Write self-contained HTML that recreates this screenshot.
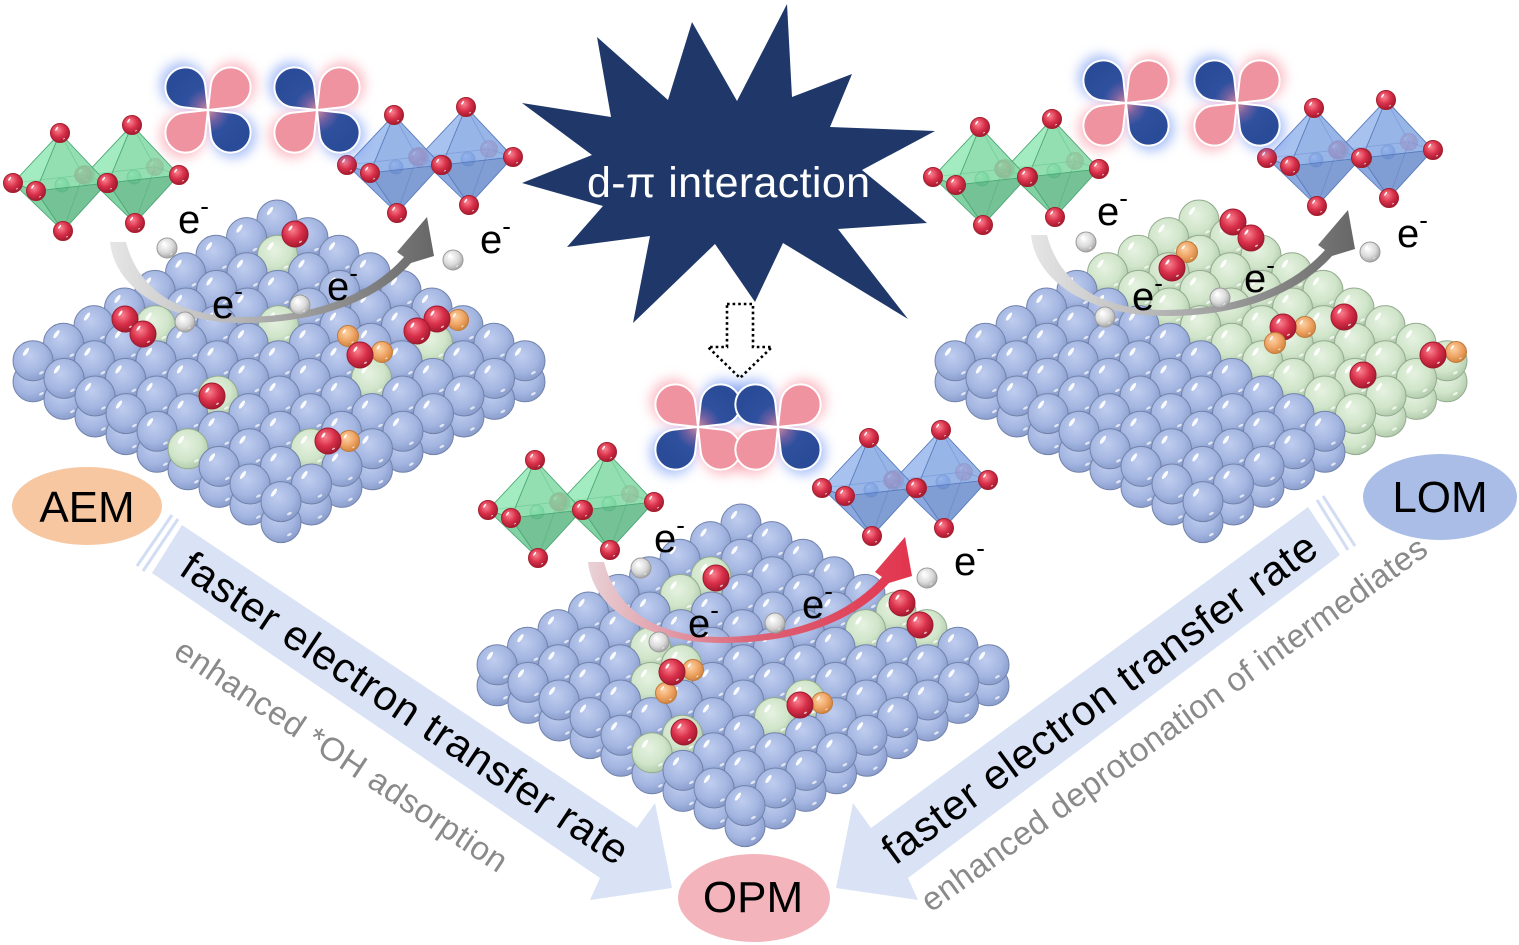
<!DOCTYPE html>
<html><head><meta charset="utf-8"><style>
html,body{margin:0;padding:0;background:#fff;width:1519px;height:945px;overflow:hidden}
svg{display:block}
text{font-family:"Liberation Sans",Arial,sans-serif}
</style></head><body>
<svg id="S" width="1519" height="945" viewBox="0 0 1519 945" xmlns="http://www.w3.org/2000/svg">
<defs id="D">
 <radialGradient id="gB" cx="0.42" cy="0.38" r="0.62"><stop offset="0" stop-color="#bfcdef"/><stop offset="0.65" stop-color="#a4b6e1"/><stop offset="1" stop-color="#8b9ecd"/></radialGradient>
 <radialGradient id="gG" cx="0.42" cy="0.38" r="0.62"><stop offset="0" stop-color="#e6f2e1"/><stop offset="0.65" stop-color="#d0e5ca"/><stop offset="1" stop-color="#b4ccae"/></radialGradient>
 <radialGradient id="gR" cx="0.4" cy="0.35" r="0.65"><stop offset="0" stop-color="#f98290"/><stop offset="0.55" stop-color="#d9304a"/><stop offset="1" stop-color="#a51a30"/></radialGradient>
 <radialGradient id="gO" cx="0.4" cy="0.35" r="0.65"><stop offset="0" stop-color="#fcd2a4"/><stop offset="0.6" stop-color="#eea363"/><stop offset="1" stop-color="#d08540"/></radialGradient>
 <radialGradient id="gW" cx="0.4" cy="0.35" r="0.65"><stop offset="0" stop-color="#ffffff"/><stop offset="0.6" stop-color="#dadada"/><stop offset="1" stop-color="#a8a8a8"/></radialGradient>
 <radialGradient id="gMg" cx="0.4" cy="0.35" r="0.65"><stop offset="0" stop-color="#b0f5cc"/><stop offset="1" stop-color="#45c782"/></radialGradient>
 <radialGradient id="gMb" cx="0.4" cy="0.35" r="0.65"><stop offset="0" stop-color="#b5d0ff"/><stop offset="1" stop-color="#4a80dc"/></radialGradient>
 <linearGradient id="arG" gradientUnits="userSpaceOnUse" x1="110" y1="0" x2="435" y2="0"><stop offset="0" stop-color="#e6e6e6"/><stop offset="0.55" stop-color="#a2a2a2"/><stop offset="1" stop-color="#666"/></linearGradient>
 <linearGradient id="arR" gradientUnits="userSpaceOnUse" x1="110" y1="0" x2="435" y2="0"><stop offset="0" stop-color="#e8d2d6"/><stop offset="0.5" stop-color="#dc6377"/><stop offset="1" stop-color="#e2344d"/></linearGradient>
 <filter id="blur" x="-50%" y="-50%" width="200%" height="200%"><feGaussianBlur stdDeviation="6"/></filter>
</defs>

<polygon points="182,525 637,828 655,803 672,888 590,900 600,878 152,573" fill="#d9e3f5"/>
<line x1="178" y1="519" x2="143" y2="571" stroke="#d2ddf3" stroke-width="3"/>
<line x1="172" y1="515" x2="137" y2="566" stroke="#d2ddf3" stroke-width="3"/>
<polygon points="1308,507 871,828 853,803 836,888 918,900 908,878 1340,555" fill="#d9e3f5"/>
<line x1="1317" y1="500" x2="1348" y2="550" stroke="#d2ddf3" stroke-width="3"/>
<line x1="1323" y1="496" x2="1355" y2="546" stroke="#d2ddf3" stroke-width="3"/>

<text transform="translate(177.5,573.5) rotate(33.7)" font-size="42" textLength="528" fill="#000">faster electron transfer rate</text>
<text transform="translate(172,656) rotate(33.7)" font-size="33" textLength="392" fill="#8a8a8a">enhanced *OH adsorption</text>
<text transform="translate(895,866) rotate(-36.3)" font-size="42" textLength="528" fill="#000">faster electron transfer rate</text>
<text transform="translate(931,913) rotate(-35.8)" font-size="33" textLength="615" fill="#8a8a8a">enhanced deprotonation of intermediates</text>

<g id="slabL"></g>
<g id="slabR"></g>
<g id="slabC"></g>
<g id="mols"></g>

<g id="arrows">
 <path d="M110,242 C115,290 170,323 245,323 C320,323 378,300 411,263 L434,256 L427,217 L397,252 L404,257 C370,295 315,316 245,317 C185,317 140,295 126,242 Z" fill="url(#arG)"/>
 <path transform="translate(921,-7)" d="M110,242 C115,290 170,323 245,323 C320,323 378,300 411,263 L434,256 L427,217 L397,252 L404,257 C370,295 315,316 245,317 C185,317 140,295 126,242 Z" fill="url(#arG)"/>
 <path transform="translate(478,320)" d="M110,242 C115,290 170,323 245,323 C320,323 378,300 411,263 L434,256 L427,217 L397,252 L404,257 C370,295 315,316 245,317 C185,317 140,295 126,242 Z" fill="url(#arR)"/>
</g>
<g id="grays"></g>

<g font-size="40" fill="#000">
 <text x="178" y="233">e<tspan dy="-18" font-size="26">-</tspan></text>
 <text x="212" y="318">e<tspan dy="-18" font-size="26">-</tspan></text>
 <text x="327" y="300">e<tspan dy="-18" font-size="26">-</tspan></text>
 <text x="480" y="253">e<tspan dy="-18" font-size="26">-</tspan></text>
 <text x="1097" y="225">e<tspan dy="-18" font-size="26">-</tspan></text>
 <text x="1397" y="247">e<tspan dy="-18" font-size="26">-</tspan></text>
 <text x="1132" y="310">e<tspan dy="-18" font-size="26">-</tspan></text>
 <text x="1244" y="292">e<tspan dy="-18" font-size="26">-</tspan></text>
 <text x="654" y="552">e<tspan dy="-18" font-size="26">-</tspan></text>
 <text x="688" y="637">e<tspan dy="-18" font-size="26">-</tspan></text>
 <text x="802" y="618">e<tspan dy="-18" font-size="26">-</tspan></text>
 <text x="954" y="575">e<tspan dy="-18" font-size="26">-</tspan></text>
</g>

<g id="octs"></g>
<g id="orbs"></g>

<polygon points="522,103 611,117 597,37 668,100 692,22 737,101 787,4 792,97 852,74 830,127 935,131 862,170 927,223 838,229 908,319 783,243 755,302 715,244 633,323 650,236 567,247 603,206 522,183 592,155" fill="#1f3869"/>
<text x="587" y="197" font-size="43" fill="#fff" textLength="283">d-π interaction</text>

<path d="M727,304 L753,304 L753,347 L772,347 L740,378 L708,347 L727,347 Z" fill="none" stroke="#000" stroke-width="2.6" stroke-dasharray="2.6 3"/>

<ellipse cx="87" cy="506" rx="75" ry="39" fill="#f7c7a1"/>
<text x="87" y="522" font-size="44" text-anchor="middle">AEM</text>
<ellipse cx="1440" cy="497" rx="77" ry="43" fill="#a9bde6"/>
<text x="1440" y="512" font-size="44" text-anchor="middle">LOM</text>
<ellipse cx="754" cy="898" rx="76" ry="44" fill="#f4b4bc"/>
<text x="753" y="912" font-size="44" text-anchor="middle">OPM</text>
</svg>

<script>
(function(){
const NS='http://www.w3.org/2000/svg';
function E(tag,a,p){const e=document.createElementNS(NS,tag);for(const k in a)e.setAttribute(k,a[k]);if(p)p.appendChild(e);return e;}
function ball(g,x,y,r,grad,stroke,hl,op){
  const c=E('circle',{cx:x,cy:y,r:r,fill:'url(#'+grad+')',stroke:stroke,'stroke-width':1},g);
  if(op!==undefined)c.setAttribute('opacity',op);
  if(hl){const hx=x-r*0.35,hy=y-r*0.45;
    E('ellipse',{cx:hx,cy:hy,rx:r*0.24,ry:r*0.09,fill:'#fff',opacity:0.95,transform:'rotate(-55 '+hx+' '+hy+')'},g);
    const lx=x+r*0.42,ly=y+r*0.6;
    E('ellipse',{cx:lx,cy:ly,rx:r*0.13,ry:r*0.06,fill:'#fff',opacity:0.7,transform:'rotate(-30 '+lx+' '+ly+')'},g);}
}
function slab(id,tx,ty,isG){
  const g=document.getElementById(id);
  for(const L of [1,0]){
    for(let s=0;s<=16;s++)for(let i=0;i<=8;i++){const j=s-i;if(j<0||j>8)continue;
      const x=tx+31*i-30.5*j, y=ty+17.6*(i+j)+(L?21:0);
      const gr=isG(i,j,L);
      ball(g,x,y,20,gr?'gG':'gB',gr?'#93ab8f':'#7283ab',true);
    }
  }
}
const setL=new Set(['1,1','3,3','1,5','4,6','6,3','5,8','7,6','6,1']);
const setC=new Set(['1,2','1,3','2,5','3,5','3,6','5,7','5,8','6,5','6,4','5,1','5,0','6,0']);
slab('slabL',277,220,(i,j,L)=>L==0&&setL.has(i+','+j));
slab('slabR',1199,220,(i,j,L)=>j<=3);
slab('slabC',741,524,(i,j,L)=>L==0&&setC.has(i+','+j));

const mg=document.getElementById('mols');
const O=[[458,320],[348,336],[382,352],[349,441],[1187,252],[1305,327],[1456,352],[693,670],[666,693],[822,703]];
O.forEach(p=>ball(mg,p[0],p[1],10.5,'gO','#c07a3a',true));
const R=[[295,234],[125,319],[143,334],[437,319],[417,331],[360,355],[212,396],[328,441],
 [1233,222],[1251,238],[1172,268],[1283,327],[1344,317],[1363,375],[1433,355],
 [716,578],[672,672],[684,732],[800,705],[902,603],[920,625]];
R.forEach(p=>ball(mg,p[0],p[1],13,'gR','#9c1a2e',true));
ball(mg,1275,343,10.5,'gO','#c07a3a',true);

const gg=document.getElementById('grays');
[[167,248],[185,322],[300,305],[453,260],[1086,242],[1370,252],[1105,317],[1220,298],[641,568],[775,623],[927,578],[659,642]]
 .forEach(p=>ball(gg,p[0],p[1],10,'gW','#9a9a9a',true));

const og=document.getElementById('octs');
function oct(cx,cy,col){
  const P=(dx,dy)=>[cx+dx,cy+dy];
  const T=P(0,-50),B=P(3,48),Lf=P(-47,0),F=P(-24,8),Rt=P(47,0),K=P(23,-8);
  const c=col=='g'?{b:'#a0eabe',f1:'#97e8b8',f2:'#84d9a6',f3:'#74ca99',f4:'#64b989',s:'#4da876',m:'gMg'}
                  :{b:'#a8c2f0',f1:'#9dbaee',f2:'#8aaae4',f3:'#7f9fda',f4:'#7192ce',s:'#5a7cbd',m:'gMb'};
  const poly=(pts,fill,op)=>E('polygon',{points:pts.map(p=>p.join(',')).join(' '),fill:fill,'fill-opacity':op,stroke:c.s,'stroke-width':0.8,'stroke-linejoin':'round'},og);
  poly([T,K,Lf],c.b,0.5);poly([T,Rt,K],c.b,0.5);poly([B,K,Lf],c.b,0.5);poly([B,Rt,K],c.b,0.5);
  ball(og,K[0],K[1],8.5,'gR','#a0202c',true,0.55);
  ball(og,cx+2,cy+2,7,c.m,c.s,true);
  poly([T,Lf,F],c.f1,0.8);poly([T,F,Rt],c.f2,0.8);poly([B,Lf,F],c.f3,0.85);poly([B,F,Rt],c.f4,0.85);
  [T,B,Lf,F,Rt].forEach(p=>ball(og,p[0],p[1],9.5,'gR','#a3202f',true));
}
function pair(cx,cy,col){oct(cx+72,cy-8,col);oct(cx,cy,col);}
pair(60,183,'g');pair(394,165,'b');pair(980,177,'g');pair(1314,158,'b');pair(535,510,'g');pair(869,488,'b');

const D=document.getElementById('D');
const rg=document.getElementById('orbs');
let gid=0;
function lobePath(cx,cy,th){
  const d=32,r=20,a=Math.asin(r/d);const t=th*Math.PI/180;
  const Cx=cx+d*Math.cos(t),Cy=cy+d*Math.sin(t);
  const a1=t-Math.PI/2-a,a2=t+Math.PI/2+a;
  const p1=[Cx+r*Math.cos(a1),Cy+r*Math.sin(a1)],p2=[Cx+r*Math.cos(a2),Cy+r*Math.sin(a2)];
  return 'M'+cx+','+cy+' L'+p1[0].toFixed(2)+','+p1[1].toFixed(2)+' A'+r+','+r+' 0 1 1 '+p2[0].toFixed(2)+','+p2[1].toFixed(2)+' Z';
}
const ANG=[-135,-45,135,45];
function cloverGlow(cx,cy,cols){
  const gl=E('g',{filter:'url(#blur)',opacity:0.5},rg);
  ANG.forEach((a,k)=>E('path',{d:lobePath(cx,cy,a),fill:cols[k]=='b'?'#4d7cf0':'#f77a8c',transform:'translate('+cx+','+cy+') scale(1.12) translate('+(-cx)+','+(-cy)+')'},gl));
}
function cloverBody(cx,cy,cols){
  gid++;const id='cg'+gid;
  const gr=E('radialGradient',{id:id,gradientUnits:'userSpaceOnUse',cx:cx,cy:cy,r:44},D);
  E('stop',{offset:'0','stop-color':'#d3899c'},gr);E('stop',{offset:'0.28','stop-color':'#6d5fa2'},gr);
  E('stop',{offset:'0.52','stop-color':'#2f509e'},gr);E('stop',{offset:'1','stop-color':'#2a4b97'},gr);
  ANG.forEach((a,k)=>E('path',{d:lobePath(cx,cy,a),fill:cols[k]=='b'?'url(#'+id+')':'#ee939f',stroke:'#fff','stroke-width':2,'stroke-linejoin':'round'},rg));
}
const std=['b','p','p','b'];
[[208,110],[317,110],[1126,103],[1237,103]].forEach(c=>{cloverGlow(c[0],c[1],std);cloverBody(c[0],c[1],std);});
const cl=['p','b','b','p'];
cloverGlow(698,427,cl);cloverGlow(778,427,std);
cloverBody(698,427,cl);cloverBody(778,427,std);
})();
</script>
</body></html>
